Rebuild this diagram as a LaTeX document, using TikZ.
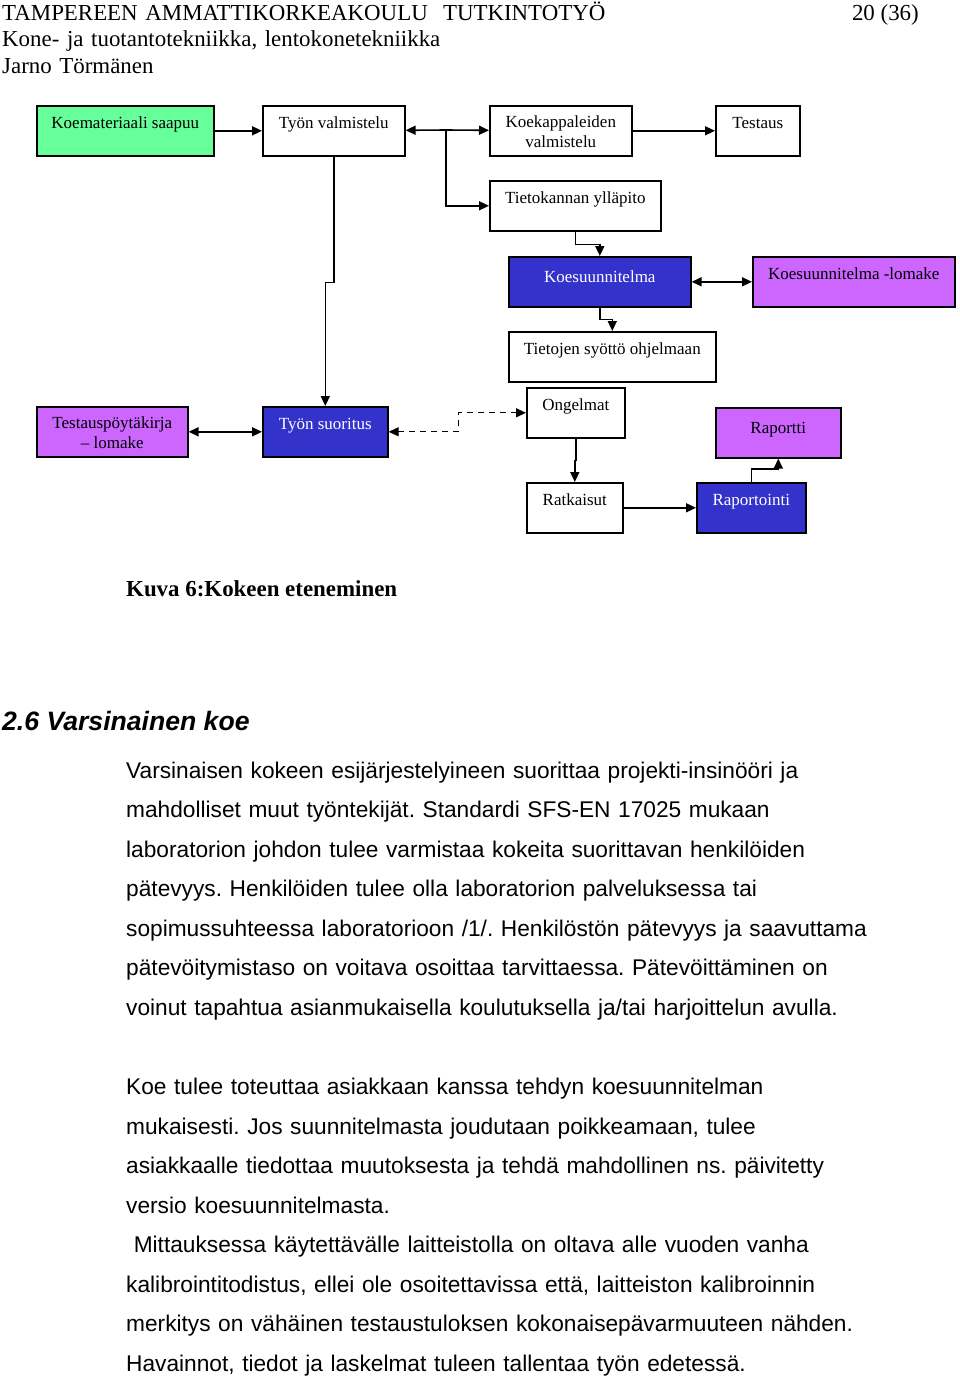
\documentclass[tikz,border=0pt]{standalone}
\usepackage{fontspec}
\setmainfont{Liberation Serif}
\setsansfont{Liberation Sans}
\usetikzlibrary{arrows.meta}
\definecolor{boxgreen}{HTML}{66FF99}
\definecolor{boxblue}{HTML}{3333CC}
\definecolor{boxpurple}{HTML}{CC66FF}
\frenchspacing
\tikzset{
  box/.style={draw, line width=1.6pt, inner sep=0pt, anchor=north west,
    minimum height=50pt, text height=23pt, text depth=27pt, align=center,
    font=\fontsize{17}{20}\selectfont},
  twolines/.style={text height=42pt, text depth=8pt},
  whitebox/.style={box, fill=white},
  greenbox/.style={box, fill=boxgreen},
  bluebox/.style={box, fill=boxblue, text=white},
  purplebox/.style={box, fill=boxpurple},
  pagetext/.style={inner sep=0pt, anchor=base west},
  bodytext/.style={pagetext, text width=830pt, align=left,
    font=\sffamily\fontsize{22.7}{39.5}\selectfont}
}
\begin{document}
\begin{tikzpicture}[x=1pt, y=-1pt]
  \useasboundingbox[fill=white] (0,0) rectangle (960,1377);
  % page header
  \node[pagetext, text width=700pt, align=left, font=\fontsize{22.9}{26.5}\selectfont] (otsake) at (2,20)
    {TAMPEREEN AMMATTIKORKEAKOULU~~TUTKINTOTYÖ\\
     Kone- ja tuotantotekniikka, lentokonetekniikka\\
     Jarno Törmänen};
  \node[pagetext, anchor=base east, font=\fontsize{22.9}{26.5}\selectfont] (sivu) at (919,20) {20 (36)};
  % flow chart
  \draw
    (36,105) node[greenbox, minimum width=177pt] (saapuu){Koemateriaali saapuu}
    (262,105) node[whitebox, minimum width=142pt] (valmistelu){Työn valmistelu}
    (489,105) node[whitebox, twolines, minimum width=142pt] (koekappaleet){Koekappaleiden\\valmistelu}
    (715,105) node[whitebox, minimum width=84pt] (testaus){Testaus}
    (489,180) node[whitebox, minimum width=171pt] (tietokanta){Tietokannan ylläpito}
    (508,256) node[bluebox, minimum width=182pt, text height=26pt, text depth=24pt] (suunnitelma){Koesuunnitelma}
    (752,256) node[purplebox, minimum width=202pt] (lomake){Koesuunnitelma -lomake}
    (508,331) node[whitebox, minimum width=207pt] (syotto){Tietojen syöttö ohjelmaan}
    (36,406) node[purplebox, twolines, minimum width=151pt] (poytakirja){Testauspöytäkirja\\– lomake}
    (262,406) node[bluebox, minimum width=125pt] (suoritus){Työn suoritus}
    (526,387) node[whitebox, minimum width=98pt] (ongelmat){Ongelmat}
    (715,407) node[purplebox, minimum width=125pt, text height=26pt, text depth=24pt] (raportti){Raportti}
    (526,482) node[whitebox, minimum width=96pt] (ratkaisut){Ratkaisut}
    (696,482) node[bluebox, minimum width=109pt] (raportointi){Raportointi};
  \coordinate (haara) at (446,130);
  \begin{scope}[->, >={Triangle[length=10pt,width=9pt]}, line width=1.6pt]
    \draw (saapuu) -- (valmistelu);
    \draw (haara) -- (valmistelu);
    \draw (haara) -- (koekappaleet);
    \draw (haara) |- (tietokanta);
    \draw (koekappaleet) -- (testaus);
    \draw (tietokanta.south) -- ++(0,13) -| (suunnitelma.north);
    \draw[<->] (suunnitelma) -- (lomake);
    \draw (suunnitelma.south) -- ++(0,12) -| (syotto.north);
    \draw (valmistelu.south) -- ++(0,126) -| (suoritus.north);
    \draw[<->] (poytakirja) -- (suoritus);
    \draw[<->, line width=1.2pt, dash pattern=on 6pt off 5pt] (suoritus.east) -- ++(70,0) |- (ongelmat.west);
    \draw (ongelmat.south) -- ++(0,22) -| (ratkaisut.north);
    \draw (ratkaisut) -- (raportointi);
    \draw (raportointi.north) -- ++(0,-13) -| (raportti.south);
  \end{scope}
  % caption and text
  \node[pagetext, font=\bfseries\fontsize{22.9}{26.5}\selectfont] (kuva) at (126,596) {Kuva 6:Kokeen eteneminen};
  \node[pagetext, font=\sffamily\bfseries\itshape\fontsize{26.6}{30}\selectfont] (luku) at (2,730) {2.6 Varsinainen koe};
  \node[bodytext] (kappale1) at (126,778)
    {Varsinaisen kokeen esijärjestelyineen suorittaa projekti-insinööri ja\\
     mahdolliset muut työntekijät. Standardi SFS-EN 17025 mukaan\\
     laboratorion johdon tulee varmistaa kokeita suorittavan henkilöiden\\
     pätevyys. Henkilöiden tulee olla laboratorion palveluksessa tai\\
     sopimussuhteessa laboratorioon /1/. Henkilöstön pätevyys ja saavuttama\\
     pätevöitymistaso on voitava osoittaa tarvittaessa. Pätevöittäminen on\\
     voinut tapahtua asianmukaisella koulutuksella ja/tai harjoittelun avulla.};
  \node[bodytext] (kappale2) at (126,1094.5)
    {Koe tulee toteuttaa asiakkaan kanssa tehdyn koesuunnitelman\\
     mukaisesti. Jos suunnitelmasta joudutaan poikkeamaan, tulee\\
     asiakkaalle tiedottaa muutoksesta ja tehdä mahdollinen ns. päivitetty\\
     versio koesuunnitelmasta.\\
     \ Mittauksessa käytettävälle laitteistolla on oltava alle vuoden vanha\\
     kalibrointitodistus, ellei ole osoitettavissa että, laitteiston kalibroinnin\\
     merkitys on vähäinen testaustuloksen kokonaisepävarmuuteen nähden.\\
     Havainnot, tiedot ja laskelmat tuleen tallentaa työn edetessä.};
\end{tikzpicture}
\end{document}
